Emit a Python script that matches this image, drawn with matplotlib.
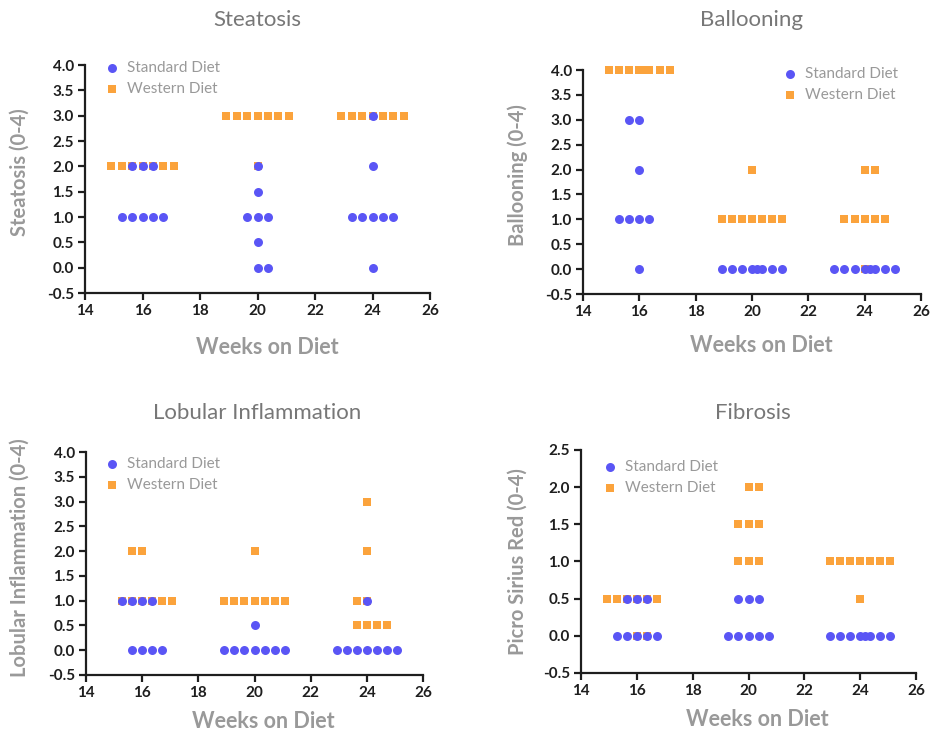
import matplotlib
matplotlib.use("Agg")
import matplotlib.pyplot as plt

plt.rcParams['font.family'] = ['Lato', 'DejaVu Sans']

# ---- data: one entry per animal (week, score, horizontal jitter slot) ----
# Steatosis
steat_sd_week = [16]*8 + [20]*8 + [24]*8
steat_sd_score = [2, 2, 2, 1, 1, 1, 1, 1,
                  2, 1.5, 1, 1, 1, 0.5, 0, 0,
                  3, 2, 1, 1, 1, 1, 1, 0]
steat_sd_slot = [-1, 0, 1, -2, -1, 0, 1, 2,
                 0, 0, -1, 0, 1, 0, 0, 1,
                 0, 0, -2, -1, 0, 1, 2, 0]
steat_wd_week = [16]*7 + [20]*8 + [24]*7
steat_wd_score = [2]*7 + [3]*7 + [2] + [3]*7
steat_wd_slot = [-3, -2, -1, 0, 1, 2, 3,
                 -3, -2, -1, 0, 1, 2, 3, 0,
                 -3, -2, -1, 0, 1, 2, 3]

# Ballooning
ball_sd_week = [16]*8 + [20]*8 + [24]*8
ball_sd_score = [3, 3, 2, 1, 1, 1, 1, 0] + [0]*8 + [0]*8
ball_sd_slot = [-1, 0, 0, -2, -1, 0, 1, 0,
                -3, -2, -1, 0, 0.5, 1, 2, 3,
                -3, -2, -1, 0, 0.5, 1, 2, 3]
ball_wd_week = [16]*8 + [20]*8 + [24]*8
ball_wd_score = [4]*8 + [2] + [1]*7 + [2, 2, 1, 1, 1, 1, 1, 0]
ball_wd_slot = [-3, -2, -1, 0, 0.5, 1, 2, 3,
                0, -3, -2, -1, 0, 1, 2, 3,
                0, 1, -2, -1, 0, 1, 2, 0]

# Lobular inflammation
lob_sd_week = [16]*8 + [20]*8 + [24]*8
lob_sd_score = [1, 1, 1, 1, 0, 0, 0, 0,
                0.5] + [0]*7 + [1] + [0]*7
lob_sd_slot = [-2, -1, 0, 1, -1, 0, 1, 2,
               0, -3, -2, -1, 0, 1, 2, 3,
               0, -3, -2, -1, 0, 1, 2, 3]
lob_wd_week = [16]*8 + [20]*8 + [24]*8
lob_wd_score = [2, 2, 1, 1, 1, 1, 1, 1,
                2] + [1]*7 + [3, 2, 1, 1, 0.5, 0.5, 0.5, 0.5]
lob_wd_slot = [-1, 0, -2, -1, 0, 1, 2, 3,
               0, -3, -2, -1, 0, 1, 2, 3,
               0, 0, -1, 0, -1, 0, 1, 2]

# Fibrosis (Picro Sirius Red)
fib_sd_week = [16]*8 + [20]*8 + [24]*8
fib_sd_score = [0.5, 0.5, 0.5, 0, 0, 0, 0, 0,
                0.5, 0.5, 0.5, 0, 0, 0, 0, 0] + [0]*8
fib_sd_slot = [-1, 0, 1, -2, -1, 0, 1, 2,
               -1, 0, 1, -2, -1, 0, 1, 2,
               -3, -2, -1, 0, 0.5, 1, 2, 3]
fib_wd_week = [16]*8 + [20]*8 + [24]*8
fib_wd_score = [0.5]*6 + [0, 0] + [2, 2, 1.5, 1.5, 1.5, 1, 1, 1] + [1]*7 + [0.5]
fib_wd_slot = [-3, -2, -1, 0, 1, 2, 0, 1,
               0, 1, -1, 0, 1, -1, 0, 1,
               -3, -2, -1, 0, 1, 2, 3, 0]

titles = ['Steatosis', 'Ballooning', 'Lobular Inflammation', 'Fibrosis']
ylabels = ['Steatosis (0-4)', 'Ballooning (0-4)',
           'Lobular Inflammation (0-4)', 'Picro Sirius Red (0-4)']
ymaxes = [4.0, 4.0, 4.0, 2.5]
xticks = [14, 16, 18, 20, 22, 24, 26]

panels = [
    (steat_sd_week, steat_sd_score, steat_sd_slot, steat_wd_week, steat_wd_score, steat_wd_slot),
    (ball_sd_week, ball_sd_score, ball_sd_slot, ball_wd_week, ball_wd_score, ball_wd_slot),
    (lob_sd_week, lob_sd_score, lob_sd_slot, lob_wd_week, lob_wd_score, lob_wd_slot),
    (fib_sd_week, fib_sd_score, fib_sd_slot, fib_wd_week, fib_wd_score, fib_wd_slot),
]

blue = '#5a55f5'
orange = '#fba33c'
grey = '#999999'
slot_w = 0.36

W, H = 932, 735
# axes rectangles in pixels: left, top, right, bottom
boxes = [(85, 65, 430, 293), (583, 70, 921, 294),
         (86, 452, 423, 675), (581, 450, 916, 673)]
title_pos = [(257, 20), (752, 20), (257, 413), (753, 413)]
legend_pos = [(106, 61), (784, 67), (106, 457), (604, 460)]
xlabel_off = [54, 51, 47, 47]
ylabel_x = [20, 518, 20, 518]
ylabel_y = [0.53, 0.53, 0.528, 0.5]

fig = plt.figure(figsize=(W/100, H/100), dpi=100)

for i, (sdw, sds, sdj, wdw, wds, wdj) in enumerate(panels):
    l, t, r, b = boxes[i]
    ax = fig.add_axes([l/W, 1 - b/H, (r-l)/W, (b-t)/H])

    ax.scatter([w + j*slot_w for w, j in zip(wdw, wdj)], wds, marker='s', s=32,
               color=orange, lw=0, zorder=3, clip_on=False, label='Western Diet')
    ax.scatter([w + j*slot_w for w, j in zip(sdw, sdj)], sds, marker='o', s=42,
               color=blue, lw=0, zorder=4, clip_on=False, label='Standard Diet')

    ax.set_xlim(14, 26)
    ax.set_ylim(-0.5, ymaxes[i])
    ax.set_xticks(xticks)
    yt = [k*0.5 - 0.5 for k in range(int((ymaxes[i] + 0.5)/0.5) + 1)]
    ax.set_yticks(yt)
    ax.set_yticklabels(['%.1f' % v for v in yt])

    for s in ['top', 'right']:
        ax.spines[s].set_visible(False)
    for s in ['left', 'bottom']:
        ax.spines[s].set_linewidth(1.6)
        ax.spines[s].set_color('#1e1e1e')
    ax.tick_params(direction='out', length=5, width=1.6, color='#1e1e1e',
                   labelsize=11, labelcolor='#1e1e1e', pad=3)
    for lab in ax.get_xticklabels() + ax.get_yticklabels():
        lab.set_fontweight('bold')

    ax.set_xlabel('Weeks on Diet', fontsize=15.5, fontweight='bold', color=grey, va='center')
    ax.xaxis.set_label_coords(0.527, -xlabel_off[i]/(b-t))
    ax.set_ylabel(ylabels[i], fontsize=14.5, fontweight='bold', color=grey, va='center')
    ax.yaxis.set_label_coords(-(l - ylabel_x[i])/(r-l), ylabel_y[i])

    tx, ty = title_pos[i]
    fig.text(tx/W, 1 - ty/H, titles[i], ha='center', va='center', fontsize=16, color='#777777')

    h, lb = ax.get_legend_handles_labels()
    lx, ly = legend_pos[i]
    ax.legend(h[::-1], lb[::-1], loc='upper left', bbox_to_anchor=(lx/W, 1 - ly/H),
              bbox_transform=fig.transFigure, frameon=False, fontsize=11,
              handlelength=0.8, handletextpad=0.6, labelspacing=0.45,
              borderpad=0, borderaxespad=0, labelcolor=grey)

fig.savefig('out.png', dpi=100)
